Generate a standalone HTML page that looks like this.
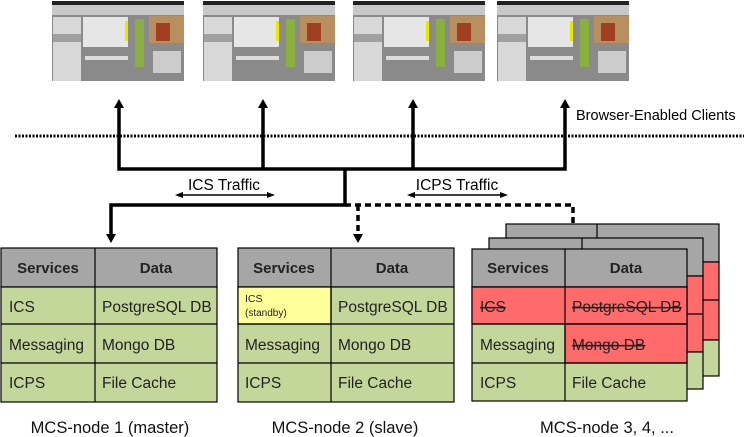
<!DOCTYPE html>
<html><head><meta charset="utf-8"><style>body{margin:0;background:#fff}svg{display:block}</style></head><body>
<svg width="744" height="437" viewBox="0 0 744 437" xmlns="http://www.w3.org/2000/svg" font-family="Liberation Sans, Arial, sans-serif">
<defs>
<g id="shot">
<rect x="0" y="0" width="132" height="80" fill="#8a8a8a"/>
<rect x="0" y="0" width="132" height="4" fill="#222"/>
<rect x="0" y="4" width="132" height="10" fill="#c8c8c8"/>
<rect x="1" y="16" width="28" height="64" fill="#d8d8d8"/>
<rect x="1" y="33" width="28" height="8" fill="#a0a0a0"/>
<rect x="31" y="16" width="45" height="30" fill="#e6e6e6"/>
<rect x="73" y="20" width="3" height="20" fill="#e8e800"/>
<rect x="33" y="55" width="43" height="4" fill="#ddd"/>
<rect x="83" y="18" width="9" height="48" fill="#8ab040"/>
<rect x="97" y="15" width="35" height="27" fill="#b89060"/>
<rect x="104" y="22" width="14" height="18" fill="#a04020"/>
<rect x="101" y="50" width="28" height="22" fill="#ccc"/>
</g>
</defs>
<use href="#shot" x="52" y="1"/>
<use href="#shot" x="203" y="1"/>
<use href="#shot" x="353" y="1"/>
<use href="#shot" x="497" y="1"/>

<line x1="15" y1="136" x2="744" y2="136" stroke="#000" stroke-width="3" stroke-dasharray="2,1.5"/>
<text x="576" y="120" font-size="14.5">Browser-Enabled Clients</text>

<g stroke="#000" stroke-width="3.5" fill="none">
<polyline points="119,106 119,169 565,169 565,106"/>
<line x1="263" y1="106" x2="263" y2="169"/>
<line x1="413" y1="106" x2="413" y2="169"/>
<polyline points="345,169 345,205 111,205 111,234"/>
<polyline points="345,205 573,205 573,230" stroke-dasharray="6,4"/>
<line x1="358" y1="205" x2="358" y2="234" stroke-dasharray="6,4"/>
</g>
<g fill="#000">
<polygon points="119,99 114,108 124,108"/>
<polygon points="263,99 258,108 268,108"/>
<polygon points="413,99 408,108 418,108"/>
<polygon points="565,99 560,108 570,108"/>
<polygon points="111,243 106,234 116,234"/>
<polygon points="358,243 353,234 363,234"/>
<polygon points="573,240 568,231 578,231"/>
</g>
<text x="224" y="190" font-size="15.5" text-anchor="middle">ICS Traffic</text>
<text x="457" y="190" font-size="15.5" text-anchor="middle">ICPS Traffic</text>
<g stroke="#000" stroke-width="1.5"><line x1="180" y1="195" x2="270" y2="195"/><line x1="412" y1="195" x2="503" y2="195"/></g>
<g fill="#000">
<polygon points="175,195 183,192 183,198"/><polygon points="275,195 267,192 267,198"/>
<polygon points="407,195 415,192 415,198"/><polygon points="508,195 500,192 500,198"/>
</g>

<g stroke="#000" stroke-width="1.2">
<rect x="506" y="224" width="213" height="38" fill="#a6a6a6"/>
<rect x="506" y="262" width="213" height="78" fill="#ff6b6b"/>
<line x1="506" y1="300" x2="719" y2="300"/>
<rect x="506" y="340" width="213" height="36" fill="#c4d79b"/>
<line x1="597" y1="224" x2="597" y2="262"/>
<rect x="489" y="238" width="214" height="38" fill="#a6a6a6"/>
<rect x="489" y="276" width="214" height="76" fill="#ff6b6b"/>
<line x1="489" y1="314" x2="703" y2="314"/>
<rect x="489" y="352" width="214" height="37" fill="#c4d79b"/>
<line x1="582" y1="238" x2="582" y2="276"/>
</g>

<g stroke="#000" stroke-width="1.2">
<rect x="1" y="248" width="216" height="39" fill="#a6a6a6"/>
<rect x="1" y="287" width="216" height="115" fill="#c4d79b"/>
<line x1="1" y1="324" x2="217" y2="324"/><line x1="1" y1="363" x2="217" y2="363"/>
<line x1="95" y1="248" x2="95" y2="402"/>
<rect x="238" y="248" width="216" height="39" fill="#a6a6a6"/>
<rect x="238" y="287" width="216" height="115" fill="#c4d79b"/>
<rect x="238" y="287" width="93" height="37" fill="#ffff99"/>
<line x1="238" y1="324" x2="454" y2="324"/><line x1="238" y1="363" x2="454" y2="363"/>
<line x1="331" y1="248" x2="331" y2="402"/>
<rect x="472" y="249" width="215" height="38" fill="#a6a6a6"/>
<rect x="472" y="287" width="215" height="114" fill="#c4d79b"/>
<rect x="472" y="287" width="215" height="37" fill="#ff6b6b"/>
<rect x="565" y="324" width="122" height="39" fill="#ff6b6b"/>
<line x1="472" y1="324" x2="687" y2="324"/><line x1="472" y1="363" x2="687" y2="363"/>
<line x1="565" y1="249" x2="565" y2="401"/>
</g>

<g font-size="15.5" fill="#222">
<g font-weight="bold" text-anchor="middle" font-size="15">
<text x="48" y="273">Services</text><text x="156" y="273">Data</text>
<text x="284" y="273">Services</text><text x="392" y="273">Data</text>
<text x="518" y="273">Services</text><text x="626" y="273">Data</text>
</g>
<text x="9" y="312">ICS</text><text x="102" y="312">PostgreSQL DB</text>
<text x="9" y="350">Messaging</text><text x="102" y="350">Mongo DB</text>
<text x="9" y="388">ICPS</text><text x="102" y="388">File Cache</text>

<text x="245" y="302" font-size="10.5">ICS</text><text x="245" y="316" font-size="10">(standby)</text>
<text x="338" y="312">PostgreSQL DB</text>
<text x="245" y="350">Messaging</text><text x="338" y="350">Mongo DB</text>
<text x="245" y="388">ICPS</text><text x="338" y="388">File Cache</text>

<text x="480" y="312" text-decoration="line-through">ICS</text><text x="572" y="312" text-decoration="line-through">PostgreSQL DB</text>
<text x="480" y="350">Messaging</text><text x="572" y="350" text-decoration="line-through">Mongo DB</text>
<text x="480" y="388">ICPS</text><text x="572" y="388">File Cache</text>
</g>
<g font-size="16.5" text-anchor="middle" fill="#111">
<text x="110" y="433">MCS-node 1 (master)</text>
<text x="345" y="433">MCS-node 2 (slave)</text>
<text x="607" y="433">MCS-node 3, 4, ...</text>
</g>
</svg>
</body></html>
